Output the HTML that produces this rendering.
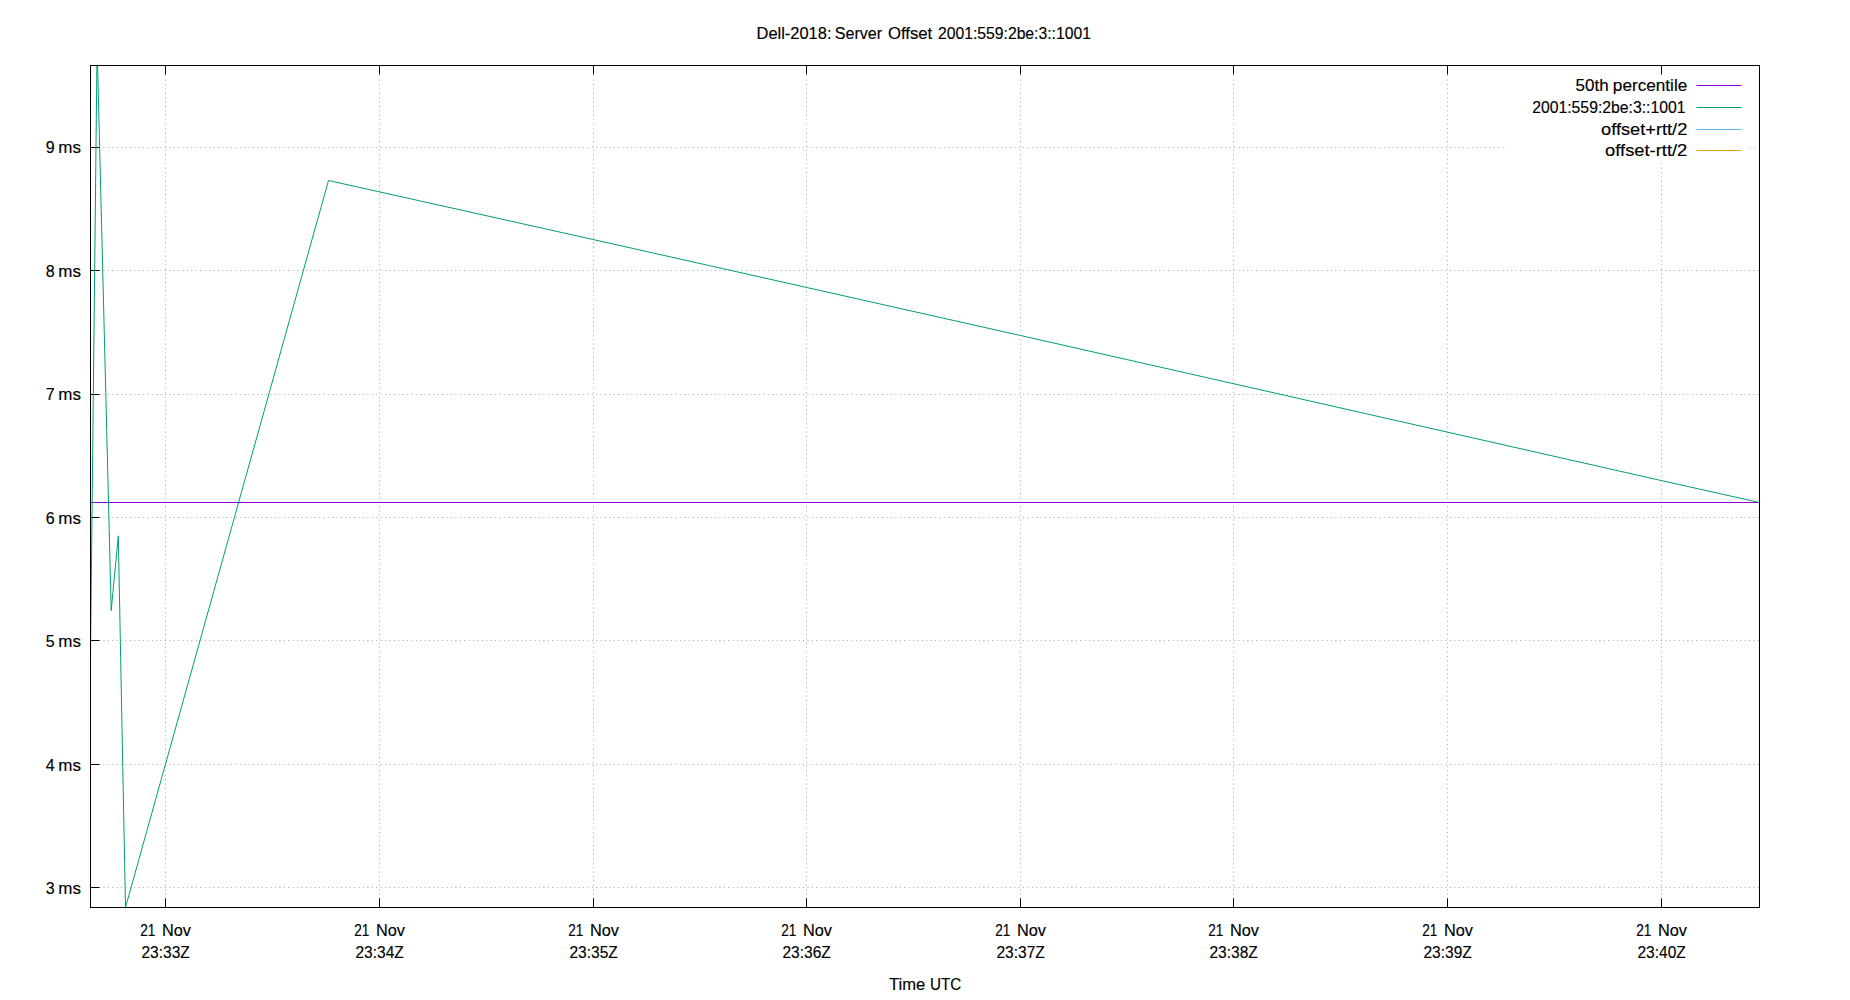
<!DOCTYPE html>
<html lang="en"><head><meta charset="utf-8"><title>Dell-2018: Server Offset 2001:559:2be:3::1001</title>
<style>html,body{margin:0;padding:0;background:#fff;overflow:hidden}svg{display:block}text{font-family:"Liberation Sans", sans-serif;font-size:16px;fill:#000;stroke:#000;stroke-width:.15px}</style></head><body>
<svg width="1850" height="1000" viewBox="0 0 1850 1000">
<rect width="1850" height="1000" fill="#fff"/>
<g stroke="#000" stroke-width="0.5" stroke-opacity="0.7" stroke-dasharray="1 3.4" fill="none">
<path d="M90.25 147.5H1507.6M1750 147.5H1759.5"/>
<path d="M90.25 270.5H1759.5"/>
<path d="M90.25 394.5H1759.5"/>
<path d="M90.25 517.5H1759.5"/>
<path d="M90.25 640.5H1759.5"/>
<path d="M90.25 764.5H1759.5"/>
<path d="M90.25 887.5H1759.5"/>
<path d="M165.5 907.80V65.5"/>
<path d="M379.5 907.80V65.5"/>
<path d="M593.5 907.80V65.5"/>
<path d="M806.5 907.80V65.5"/>
<path d="M1020.5 907.80V65.5"/>
<path d="M1233.5 907.80V65.5"/>
<path d="M1447.5 907.80V65.5"/>
<path d="M1661.5 907.80V65.5"/>
</g>
<rect x="1507.6" y="74.5" width="242.6" height="88.1" fill="#fff"/>
<g stroke="#000" stroke-width="1" fill="none">
<path d="M90.5 147.5h9"/>
<path d="M90.5 270.5h9"/>
<path d="M90.5 394.5h9"/>
<path d="M90.5 517.5h9"/>
<path d="M90.5 640.5h9"/>
<path d="M90.5 764.5h9"/>
<path d="M90.5 887.5h9"/>
<path d="M165.5 907.5v-9M165.5 65.5v9"/>
<path d="M379.5 907.5v-9M379.5 65.5v9"/>
<path d="M593.5 907.5v-9M593.5 65.5v9"/>
<path d="M806.5 907.5v-9M806.5 65.5v9"/>
<path d="M1020.5 907.5v-9M1020.5 65.5v9"/>
<path d="M1233.5 907.5v-9M1233.5 65.5v9"/>
<path d="M1447.5 907.5v-9M1447.5 65.5v9"/>
<path d="M1661.5 907.5v-9M1661.5 65.5v9"/>
</g>
<clipPath id="c"><rect x="90.5" y="65.5" width="1669.0" height="842.0"/></clipPath>
<g clip-path="url(#c)" fill="none" stroke-width="1" stroke-linejoin="round">
<path stroke="#9400d3" d="M90.5 502.5H1759.5"/>
<path stroke="#009e73" d="M90.5 655L97.1 45L111.2 610.5L118.3 535.8L125.5 907.4L328.5 180.5L593.5 239.6L1020.5 335.5L1233.5 383.7L1661.5 480.6L1759.5 502.5"/>
</g>
<rect x="90.5" y="65.5" width="1669.0" height="842.0" fill="none" stroke="#000" stroke-width="1"/>
<text x="756.57" y="39.2" textLength="74.91" lengthAdjust="spacingAndGlyphs">Dell-2018:</text>
<text x="834.80" y="39.2" textLength="47.33" lengthAdjust="spacingAndGlyphs">Server</text>
<text x="887.90" y="39.2" textLength="44.32" lengthAdjust="spacingAndGlyphs">Offset</text>
<text x="938.00" y="39.2" textLength="152.90" lengthAdjust="spacingAndGlyphs">2001:559:2be:3::1001</text>
<text x="889.00" y="989.8" textLength="36.19" lengthAdjust="spacingAndGlyphs">Time</text>
<text x="929.95" y="989.8" textLength="31.28" lengthAdjust="spacingAndGlyphs">UTC</text>
<text x="1575.60" y="91.2" textLength="33.05" lengthAdjust="spacingAndGlyphs">50th</text>
<text x="1612.83" y="91.2" textLength="74.46" lengthAdjust="spacingAndGlyphs">percentile</text>
<text x="1532.20" y="113.2" textLength="153.30" lengthAdjust="spacingAndGlyphs">2001:559:2be:3::1001</text>
<text x="1601.10" y="134.7" textLength="86.18" lengthAdjust="spacingAndGlyphs">offset+rtt/2</text>
<text x="1605.10" y="156.2" textLength="82.18" lengthAdjust="spacingAndGlyphs">offset-rtt/2</text>
<text x="50.10" y="153.0" text-anchor="middle">9</text>
<text x="58.34" y="153.0" textLength="22.66" lengthAdjust="spacingAndGlyphs">ms</text>
<text x="50.10" y="276.5" text-anchor="middle">8</text>
<text x="58.34" y="276.5" textLength="22.66" lengthAdjust="spacingAndGlyphs">ms</text>
<text x="50.10" y="400.0" text-anchor="middle">7</text>
<text x="58.34" y="400.0" textLength="22.66" lengthAdjust="spacingAndGlyphs">ms</text>
<text x="50.10" y="523.5" text-anchor="middle">6</text>
<text x="58.34" y="523.5" textLength="22.66" lengthAdjust="spacingAndGlyphs">ms</text>
<text x="50.10" y="647.0" text-anchor="middle">5</text>
<text x="58.34" y="647.0" textLength="22.66" lengthAdjust="spacingAndGlyphs">ms</text>
<text x="50.10" y="770.5" text-anchor="middle">4</text>
<text x="58.34" y="770.5" textLength="22.66" lengthAdjust="spacingAndGlyphs">ms</text>
<text x="50.10" y="894.0" text-anchor="middle">3</text>
<text x="58.34" y="894.0" textLength="22.66" lengthAdjust="spacingAndGlyphs">ms</text>
<text x="140.30" y="935.8" textLength="15.11" lengthAdjust="spacingAndGlyphs">21</text>
<text x="161.98" y="935.8" textLength="29.02" lengthAdjust="spacingAndGlyphs">Nov</text>
<text x="141.50" y="957.8" textLength="48.28" lengthAdjust="spacingAndGlyphs">23:33Z</text>
<text x="354.30" y="935.8" textLength="15.11" lengthAdjust="spacingAndGlyphs">21</text>
<text x="375.98" y="935.8" textLength="29.02" lengthAdjust="spacingAndGlyphs">Nov</text>
<text x="355.50" y="957.8" textLength="48.28" lengthAdjust="spacingAndGlyphs">23:34Z</text>
<text x="568.30" y="935.8" textLength="15.11" lengthAdjust="spacingAndGlyphs">21</text>
<text x="589.98" y="935.8" textLength="29.02" lengthAdjust="spacingAndGlyphs">Nov</text>
<text x="569.50" y="957.8" textLength="48.28" lengthAdjust="spacingAndGlyphs">23:35Z</text>
<text x="781.30" y="935.8" textLength="15.11" lengthAdjust="spacingAndGlyphs">21</text>
<text x="802.98" y="935.8" textLength="29.02" lengthAdjust="spacingAndGlyphs">Nov</text>
<text x="782.50" y="957.8" textLength="48.28" lengthAdjust="spacingAndGlyphs">23:36Z</text>
<text x="995.30" y="935.8" textLength="15.11" lengthAdjust="spacingAndGlyphs">21</text>
<text x="1016.98" y="935.8" textLength="29.02" lengthAdjust="spacingAndGlyphs">Nov</text>
<text x="996.50" y="957.8" textLength="48.28" lengthAdjust="spacingAndGlyphs">23:37Z</text>
<text x="1208.30" y="935.8" textLength="15.11" lengthAdjust="spacingAndGlyphs">21</text>
<text x="1229.98" y="935.8" textLength="29.02" lengthAdjust="spacingAndGlyphs">Nov</text>
<text x="1209.50" y="957.8" textLength="48.28" lengthAdjust="spacingAndGlyphs">23:38Z</text>
<text x="1422.30" y="935.8" textLength="15.11" lengthAdjust="spacingAndGlyphs">21</text>
<text x="1443.98" y="935.8" textLength="29.02" lengthAdjust="spacingAndGlyphs">Nov</text>
<text x="1423.50" y="957.8" textLength="48.28" lengthAdjust="spacingAndGlyphs">23:39Z</text>
<text x="1636.30" y="935.8" textLength="15.11" lengthAdjust="spacingAndGlyphs">21</text>
<text x="1657.98" y="935.8" textLength="29.02" lengthAdjust="spacingAndGlyphs">Nov</text>
<text x="1637.50" y="957.8" textLength="48.28" lengthAdjust="spacingAndGlyphs">23:40Z</text>
<path d="M1696.5 85.5H1741.5" stroke="#9400d3" stroke-width="1" fill="none"/>
<path d="M1696.5 107.5H1741.5" stroke="#009e73" stroke-width="1" fill="none"/>
<path d="M1696.5 129.5H1741.5" stroke="#56b4e9" stroke-width="1" fill="none"/>
<path d="M1696.5 150.5H1741.5" stroke="#e69f00" stroke-width="1" fill="none"/>
</svg></body></html>
